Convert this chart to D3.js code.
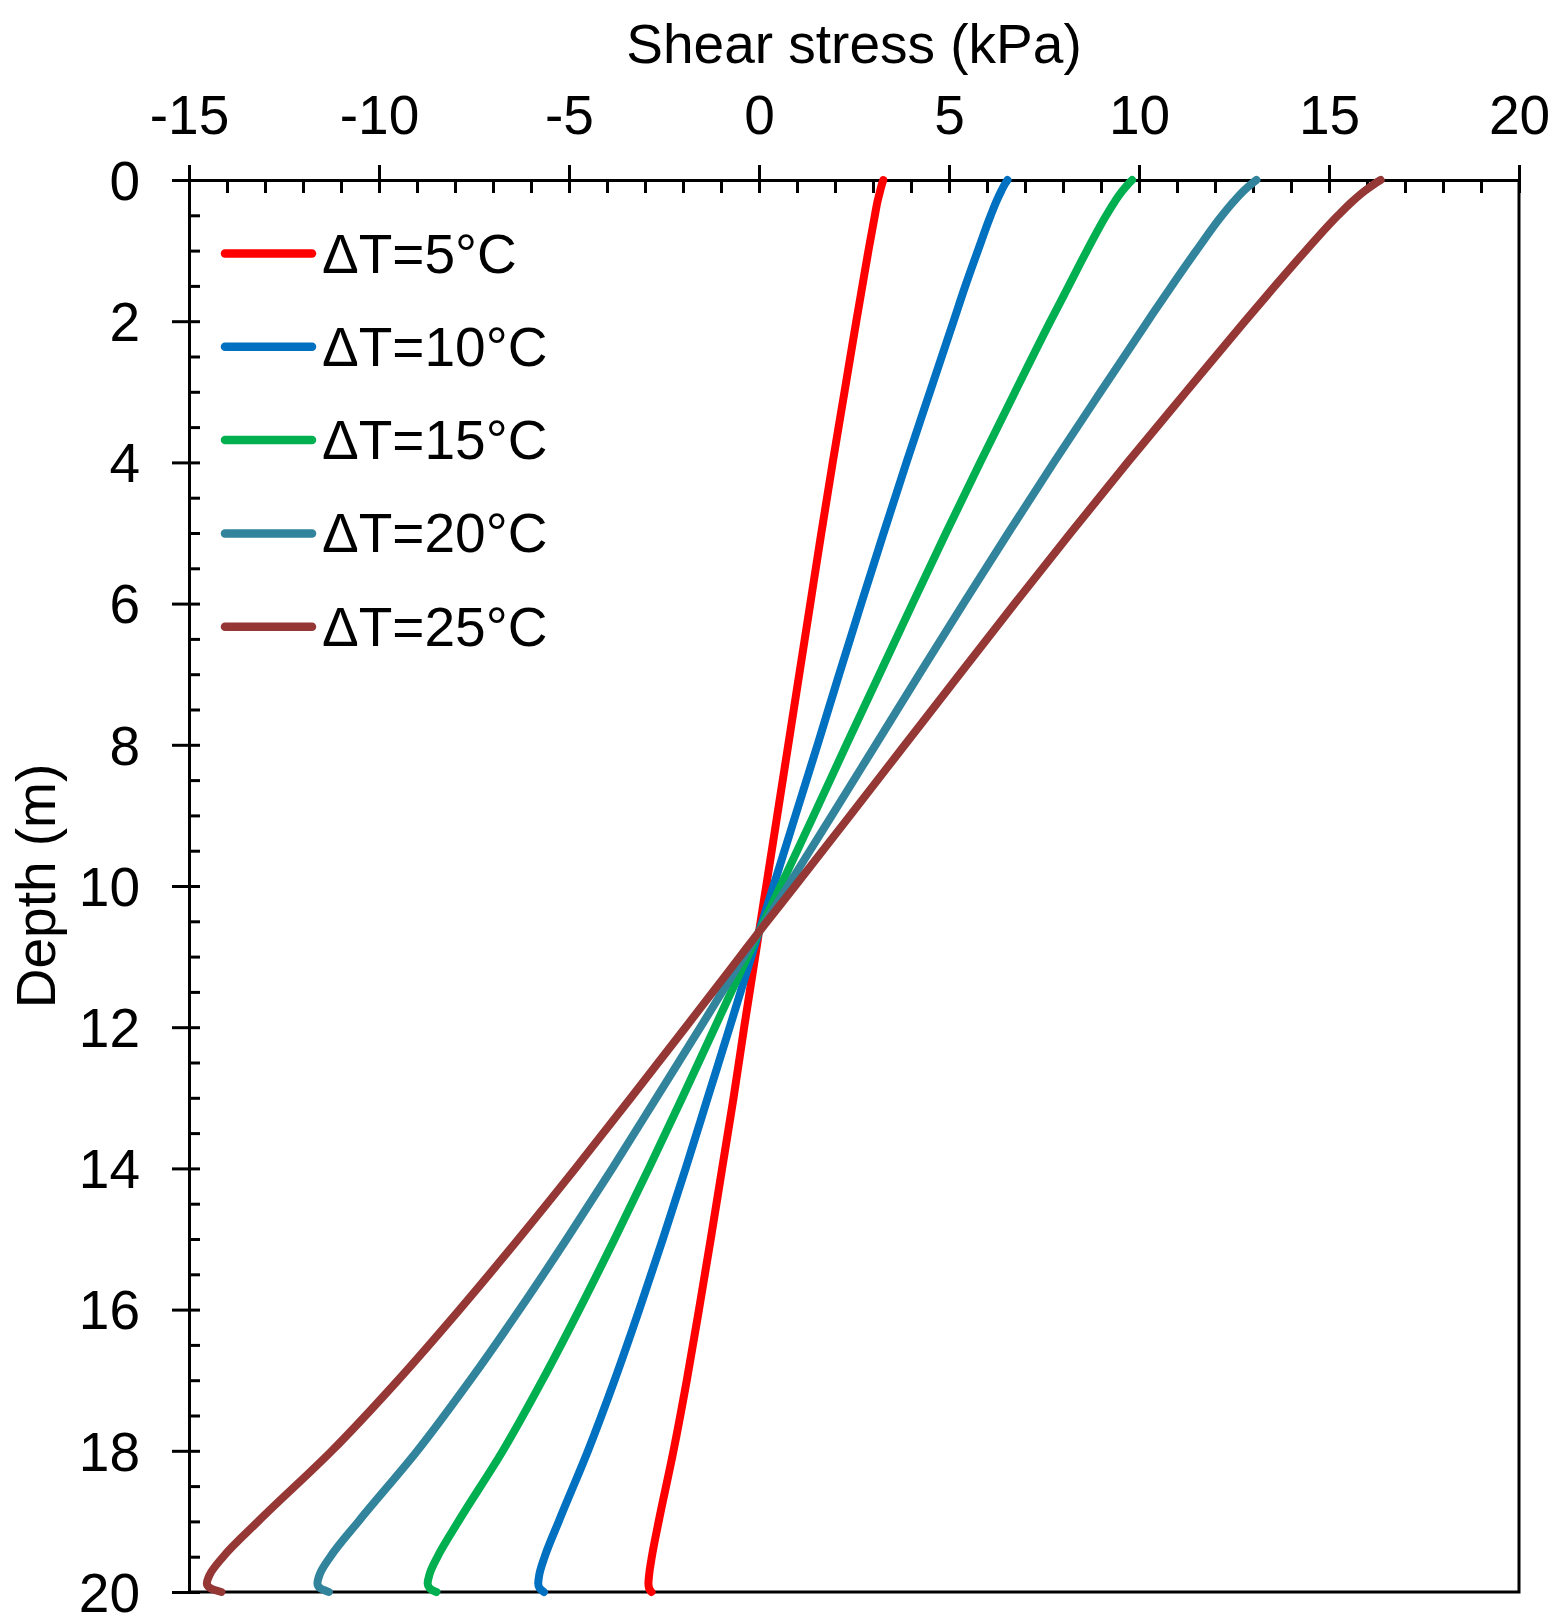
<!DOCTYPE html>
<html>
<head>
<meta charset="utf-8">
<script src="https://cdn.jsdelivr.net/npm/d3@7"></script>
<style>
  body { margin: 0; background: #fff; }
  text { font-family: "Liberation Sans", Arial, Helvetica, sans-serif; fill: #000; }
  .axis path, .axis line { stroke: #000; stroke-width: 3; }
  .curve { fill: none; stroke-width: 8; stroke-linecap: round; stroke-linejoin: round; }
</style>
</head>
<body>
<div id="chart"></div>
<script>
// depth of each reading (m)
var depth = [0, 0.05, 0.15, 0.3, 0.5, 1, 1.5, 2, 3, 4, 5, 6, 7, 8, 9, 10, 10.65,
             11, 12, 13, 14, 15, 16, 17, 18, 19, 19.5, 19.75, 19.88, 19.95, 20];

// shear stress (kPa)
var dT5  = [3.27, 3.24, 3.19, 3.12, 3.05, 2.88, 2.72, 2.56, 2.25, 1.94, 1.64, 1.35, 1.06, 0.77, 0.48, 0.19, 0,
            -0.10, -0.39, -0.67, -0.97, -1.27, -1.58, -1.90, -2.25, -2.64, -2.82, -2.89, -2.91, -2.89, -2.83];
var dT10 = [6.54, 6.48, 6.38, 6.25, 6.10, 5.76, 5.43, 5.12, 4.50, 3.88, 3.28, 2.69, 2.11, 1.54, 0.96, 0.38, 0,
            -0.20, -0.77, -1.35, -1.93, -2.53, -3.15, -3.80, -4.50, -5.27, -5.64, -5.78, -5.81, -5.77, -5.66];
var dT15 = [9.82, 9.73, 9.57, 9.37, 9.14, 8.63, 8.15, 7.67, 6.74, 5.82, 4.92, 4.04, 3.17, 2.30, 1.44, 0.57, 0,
            -0.30, -1.16, -2.02, -2.90, -3.80, -4.73, -5.70, -6.74, -7.91, -8.46, -8.67, -8.72, -8.66, -8.49];
var dT20 = [13.09, 12.97, 12.76, 12.50, 12.19, 11.51, 10.86, 10.23, 8.99, 7.76, 6.56, 5.38, 4.22, 3.07, 1.92, 0.76, 0,
            -0.40, -1.54, -2.70, -3.86, -5.06, -6.30, -7.60, -8.99, -10.54, -11.28, -11.56, -11.62, -11.54, -11.32];
var dT25 = [16.36, 16.21, 15.95, 15.62, 15.24, 14.39, 13.58, 12.79, 11.24, 9.70, 8.20, 6.73, 5.28, 3.84, 2.40, 0.95, 0,
            -0.50, -1.93, -3.37, -4.83, -6.33, -7.88, -9.50, -11.24, -13.18, -14.10, -14.45, -14.53, -14.43, -14.15];

var seriesNames = ["\u0394T=5\u00b0C", "\u0394T=10\u00b0C", "\u0394T=15\u00b0C", "\u0394T=20\u00b0C", "\u0394T=25\u00b0C"];
var seriesValues = [dT5, dT10, dT15, dT20, dT25];
var seriesColors = ["#ff0000", "#0070c0", "#00b050", "#31849b", "#953735"];

var xTicks = [-15, -10, -5, 0, 5, 10, 15, 20];
var yTicks = [0, 2, 4, 6, 8, 10, 12, 14, 16, 18, 20];

// set the dimensions and margins of the graph
var margin = {top: 180, right: 37, bottom: 24, left: 189},
    width = 1556 - margin.left - margin.right,
    height = 1616 - margin.top - margin.bottom;

var svg = d3.select("#chart")
  .append("svg")
    .attr("width", 1556)
    .attr("height", 1616)
  .append("g")
    .attr("transform", "translate(" + margin.left + "," + margin.top + ")");

var x = d3.scaleLinear().domain([-15, 20]).range([0, width]);
var y = d3.scaleLinear().domain([0, 20]).range([0, height]);

// plain hyphen for negatives, like the original
var plain = function(d) { return String(d); };

// top axis: labels + outward major ticks
var xAxis = svg.append("g")
  .attr("class", "axis")
  .call(d3.axisTop(x).tickValues(xTicks).tickFormat(plain)
    .tickSize(15).tickSizeOuter(0).tickPadding(31));
xAxis.selectAll("text").style("font-size", "55px");

// inward ticks every 1 kPa
svg.append("g")
  .attr("class", "axis")
  .call(d3.axisTop(x).tickValues(d3.range(-15, 20.5, 1)).tickSize(-13).tickFormat(""))
  .select(".domain").remove();

// left axis: labels + outward major ticks
var yAxis = svg.append("g")
  .attr("class", "axis")
  .call(d3.axisLeft(y).tickValues(yTicks).tickFormat(plain)
    .tickSize(17).tickSizeOuter(0).tickPadding(32));
yAxis.selectAll("text").style("font-size", "55px").attr("dy", "0.35em");

// inward ticks every 0.5 m
svg.append("g")
  .attr("class", "axis")
  .call(d3.axisLeft(y).tickValues(d3.range(0, 20.25, 0.5)).tickSize(-11).tickFormat(""))
  .select(".domain").remove();

// right and bottom frame
svg.append("path")
  .attr("d", "M" + width + ",0V" + height + "H0")
  .attr("fill", "none")
  .attr("stroke", "#000")
  .attr("stroke-width", 3);

// curves
var line = d3.line()
  .x(function(d) { return x(d[1]); })
  .y(function(d) { return y(d[0]); })
  .curve(d3.curveMonotoneY);

seriesValues.forEach(function(vals, i) {
  svg.append("path")
    .datum(depth.map(function(d, j) { return [d, vals[j]]; }))
    .attr("class", "curve")
    .attr("stroke", seriesColors[i])
    .attr("d", line);
});

// axis titles
svg.append("text")
  .attr("text-anchor", "middle")
  .attr("x", width / 2)
  .attr("y", 63 - margin.top)
  .style("font-size", "55px")
  .text("Shear stress (kPa)");

svg.append("text")
  .attr("text-anchor", "middle")
  .attr("transform", "rotate(-90)")
  .attr("x", -height / 2)
  .attr("y", 55 - margin.left)
  .style("font-size", "55px")
  .text("Depth (m)");

// legend
var legend = svg.append("g")
  .attr("transform", "translate(" + (225 - margin.left) + "," + (253.5 - margin.top) + ")");

seriesNames.forEach(function(name, i) {
  var row = legend.append("g").attr("transform", "translate(0," + (i * 93.3) + ")");
  row.append("line")
    .attr("x1", 0).attr("x2", 87)
    .attr("stroke", seriesColors[i])
    .attr("stroke-width", 8.5)
    .attr("stroke-linecap", "round");
  row.append("text")
    .attr("x", 97)
    .attr("y", 19)
    .style("font-size", "55px")
    .text(name);
});
</script>
</body>
</html>
